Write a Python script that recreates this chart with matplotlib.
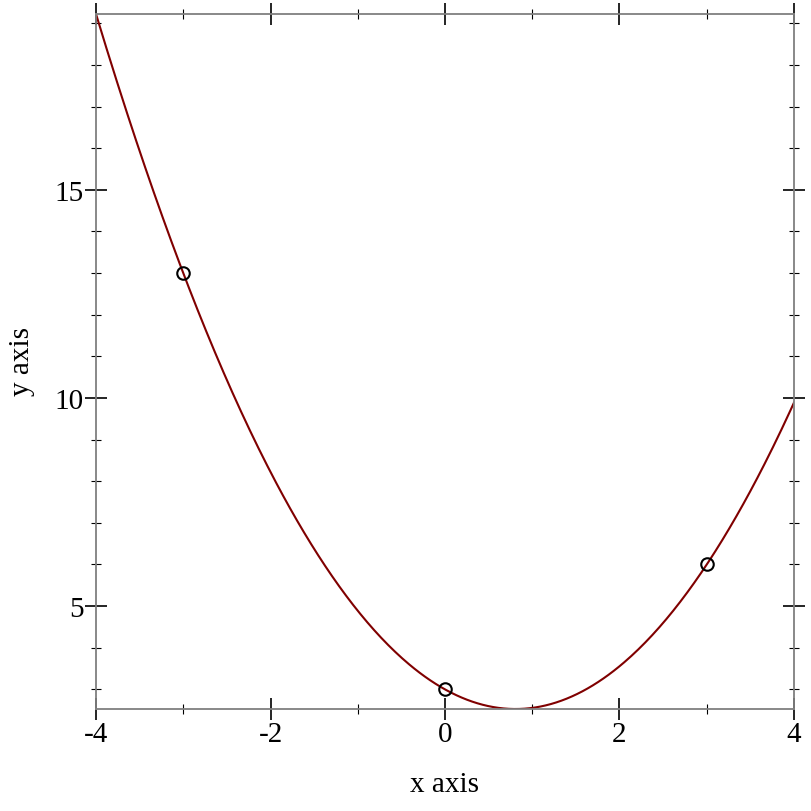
import matplotlib.pyplot as plt
import numpy as np
from matplotlib.ticker import MultipleLocator

# data points and their quadratic fit
xs = [-3, 0, 3]
ys = [13, 3, 6]
coef = np.polyfit(xs, ys, 2)

xlim = (-4, 4)
xc = np.linspace(xlim[0], xlim[1], 400)
yc = np.polyval(coef, xc)

plt.rcParams['font.family'] = ['Liberation Serif', 'DejaVu Serif']
plt.rcParams['axes.unicode_minus'] = False

fig = plt.figure(figsize=(8.12, 8.12), dpi=100)
W = H = 812.0
ax = fig.add_axes([96 / W, 1 - 710 / H, (794 - 96) / W, (710 - 15) / H])

ax.plot(xc, yc, color='#800000', lw=1.5, zorder=2)
ax.plot(xs, ys, 'o', mfc='none', mec='black', mew=1.5, ms=9, zorder=3)

ax.set_xlim(*xlim)
ax.set_ylim(yc.min(), yc.max())

ax.xaxis.set_major_locator(MultipleLocator(2))
ax.xaxis.set_minor_locator(MultipleLocator(1))
ax.yaxis.set_major_locator(MultipleLocator(5))
ax.yaxis.set_minor_locator(MultipleLocator(1))

for s in ax.spines.values():
    s.set_color('#7f7f7f')
    s.set_linewidth(1.3)

ax.tick_params(which='both', direction='inout', top=True, right=True,
               color='black', labelsize=21, labelcolor='black')
ax.tick_params(which='major', length=16, width=1.2, pad=1)
ax.tick_params(which='minor', length=7.5, width=0.8)

fig.text(445 / W, 1 - 785 / H, 'x axis', ha='center', va='center', fontsize=21)
fig.text(22 / W, 1 - 362 / H, 'y axis', ha='center', va='center',
         rotation=90, fontsize=21)

fig.savefig('out.png', dpi=100)
